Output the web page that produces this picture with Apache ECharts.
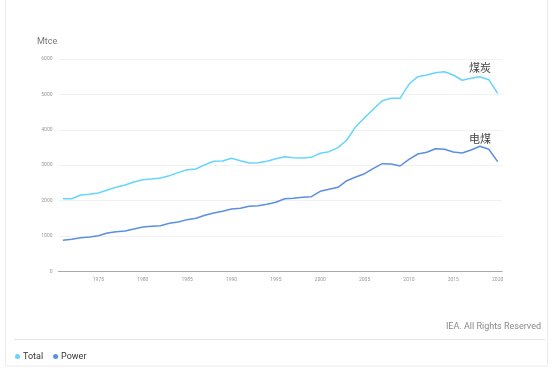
<!DOCTYPE html>
<html>
<head>
<meta charset="utf-8">
<script src="https://cdn.jsdelivr.net/npm/echarts@6/dist/echarts.min.js"></script>
<style>html,body{margin:0;padding:0;background:#fff}#c{width:559px;height:371px}</style>
</head>
<body>
<div id="c"></div>
<script>
const years = [];
for (let y = 1971; y <= 2020; y++) years.push(String(y));
const totalValues = [2052,2050,2157,2176,2213,2298,2374,2440,2524,2590,
  2609,2637,2703,2788,2872,2891,3013,3109,3118,3194,
  3126,3061,3070,3109,3183,3240,3211,3202,3221,3335,
  3381,3494,3711,4088,4342,4587,4822,4889,4889,5285,
  5500,5548,5613,5640,5548,5399,5455,5500,5416,5030];
const powerValues = [876,904,950,969,1006,1083,1120,1139,1196,1252,
  1272,1290,1357,1394,1460,1498,1583,1648,1696,1761,
  1780,1837,1854,1894,1950,2052,2063,2092,2109,2261,
  2318,2374,2561,2665,2759,2911,3041,3033,2976,3165,
  3315,3363,3465,3448,3372,3344,3428,3533,3448,3098];
const yTicks = [0,1000,2000,3000,4000,5000,6000];
const seriesNames = ['Total','Power'];
const annotations = ['煤炭','电煤'];
const unitLabel = 'Mtce';
const sourceText = 'IEA. All Rights Reserved';

const chart = echarts.init(document.getElementById('c'), null, {renderer:'canvas'});
const font = 'Roboto, "Noto Sans CJK SC", sans-serif';
chart.setOption({
  animation: false,
  backgroundColor: '#fff',
  textStyle: {fontFamily: font},
  grid: {left: 58.5, width: 443.6, top: 59, bottom: 99.7, containLabel: false},
  legend: {
    left: 10, top: 347, itemWidth: 5, itemHeight: 5, itemGap: 10, icon: 'circle',
    textStyle: {fontSize: 9, color: '#333', padding: [0,0,0,-2]},
    data: seriesNames
  },
  xAxis: {
    type: 'category', data: years, boundaryGap: true,
    axisLine: {lineStyle: {color: '#a8a8a8', width: 1}},
    axisTick: {alignWithLabel: true, length: 4, lineStyle: {color: '#a8a8a8'},
      interval: (i, v) => Number(v) % 5 === 0},
    axisLabel: {fontSize: 5, color: '#999', margin: 6,
      interval: (i, v) => Number(v) % 5 === 0},
    splitLine: {show: false}
  },
  yAxis: {
    type: 'value', min: yTicks[0], max: yTicks[yTicks.length-1], interval: 1000,
    axisLine: {show: false}, axisTick: {show: false},
    axisLabel: {fontSize: 5, color: '#999', margin: 6, formatter: v => String(v)},
    splitLine: {lineStyle: {color: '#f1f1f1', width: 1}}
  },
  series: [
    {name: seriesNames[0], type: 'line', data: totalValues, symbol: 'none',
     color: '#66d5fb', lineStyle: {width: 1.5, color: '#66d5fb'},
     markPoint: {symbol: 'circle', symbolSize: 0,
       data: [{coord: ['2018', totalValues[47]], value: annotations[0]}],
       label: {show: true, position: 'top', distance: 3, formatter: annotations[0],
         fontSize: 11, color: '#444', fontFamily: '"Noto Sans CJK SC", sans-serif'}}},
    {name: seriesNames[1], type: 'line', data: powerValues, symbol: 'none',
     color: '#5b8fe2', lineStyle: {width: 1.5, color: '#5b8fe2'},
     markPoint: {symbol: 'circle', symbolSize: 0,
       data: [{coord: ['2018', powerValues[47]], value: annotations[1]}],
       label: {show: true, position: 'top', distance: 2, formatter: annotations[1],
         fontSize: 11, color: '#444', fontFamily: '"Noto Sans CJK SC", sans-serif'}}}
  ],
  graphic: [
    {type: 'rect', shape: {x: 5.5, y: -2, width: 542, height: 368},
     style: {fill: 'none', stroke: '#ebebeb', lineWidth: 1}, silent: true},
    {type: 'line', shape: {x1: 14, y1: 339.5, x2: 545, y2: 339.5},
     style: {stroke: '#e6e6e6', lineWidth: 1}, silent: true},
    {type: 'text', left: 37, top: 37,
     style: {text: unitLabel, fontSize: 9, fill: '#777', fontFamily: font}},
    {type: 'text', right: 18, top: 322,
     style: {text: sourceText, fontSize: 9, fill: '#8a8a8a', fontFamily: font}}
  ]
});
</script>
</body>
</html>
